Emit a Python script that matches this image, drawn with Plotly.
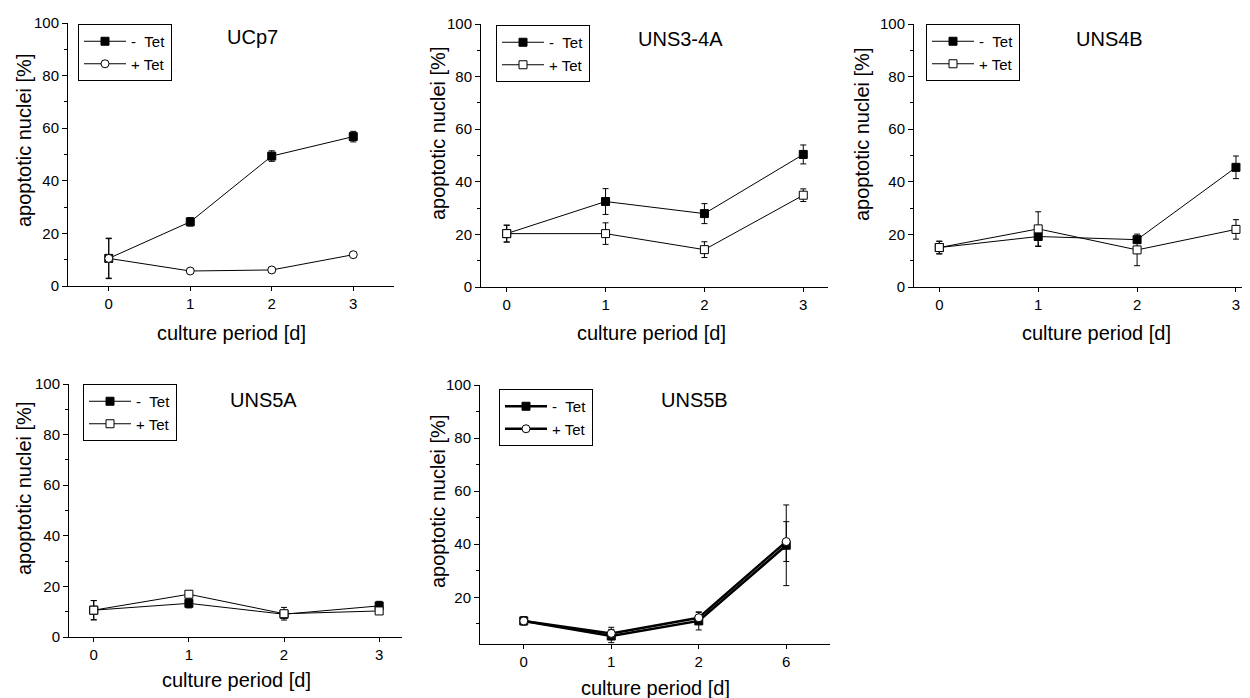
import plotly.graph_objects as go

# page body has an 8px margin: the figure is drawn 8px right/down
OFF = 8
W, H = 1250 - OFF, 698 - OFF

# ---------------- data ----------------
days_a = ["0", "1", "2", "3"]
days_b = ["0", "1", "2", "6"]

panel_titles = ["UCp7", "UNS3-4A", "UNS4B", "UNS5A", "UNS5B"]
series_names = ["-\u00a0\u00a0Tet", "+ Tet"]

ucp7_minus = [10.5, 24.4, 49.4, 56.8]
ucp7_minus_err = [7.5, 1.6, 2.0, 2.0]
ucp7_plus = [10.5, 5.7, 6.1, 11.9]
ucp7_plus_err = [7.7, 0.8, 1.0, 1.0]

uns34a_minus = [20.3, 32.5, 27.9, 50.4]
uns34a_minus_err = [3.2, 4.9, 3.8, 3.6]
uns34a_plus = [20.3, 20.3, 14.2, 34.9]
uns34a_plus_err = [3.2, 4.1, 3.0, 2.4]

uns4b_minus = [15.0, 19.2, 18.0, 45.5]
uns4b_minus_err = [2.4, 3.8, 1.0, 4.3]
uns4b_plus = [15.0, 22.1, 14.1, 21.9]
uns4b_plus_err = [2.4, 6.5, 6.0, 3.7]

uns5a_minus = [10.6, 13.3, 9.0, 12.3]
uns5a_minus_err = [3.8, 1.8, 1.5, 1.8]
uns5a_plus = [10.6, 16.9, 9.2, 10.3]
uns5a_plus_err = [3.8, 1.0, 2.5, 1.0]

uns5b_minus = [11.1, 5.4, 11.1, 39.6]
uns5b_minus_err = [1.5, 2.5, 3.4, 15.2]
uns5b_plus = [11.1, 6.4, 12.3, 41.0]
uns5b_plus_err = [1.5, 2.3, 2.0, 7.5]

# ---------------- layout geometry (screen pixels) ----------------
geom = [
    dict(l=68, r=394, t=23, b=286, xr=[-0.5, 3.5], yr=[0, 100]),
    dict(l=481, r=828, t=24, b=287, xr=[-0.26, 3.25], yr=[0, 100]),
    dict(l=914, r=1250, t=24, b=287, xr=[-0.256, 3.142], yr=[0, 100]),
    dict(l=69, r=402, t=384, b=637, xr=[-0.26, 3.24], yr=[0, 100]),
    dict(l=480, r=830, t=385, b=644, xr=[-0.5, 3.5], yr=[2.4, 100]),
]
title_pos = [(252, 37), (680, 39), (1109, 39), (263, 400), (694, 400)]
ytitle_pos = [(24, 141), (438, 134), (862, 134), (24, 489), (438, 502)]
xtitle_pos = [(231, 333), (651, 333), (1096, 333), (236, 680), (655, 688)]
legend_pos = [(78, 24), (496, 25), (926, 24), (83, 384), (499, 389)]

panels = [
    (days_a, ucp7_minus, ucp7_minus_err, ucp7_plus, ucp7_plus_err, "circle", 1),
    (days_a, uns34a_minus, uns34a_minus_err, uns34a_plus, uns34a_plus_err, "square", 1),
    (days_a, uns4b_minus, uns4b_minus_err, uns4b_plus, uns4b_plus_err, "square", 1),
    (days_a, uns5a_minus, uns5a_minus_err, uns5a_plus, uns5a_plus_err, "square", 1),
    (days_b, uns5b_minus, uns5b_minus_err, uns5b_plus, uns5b_plus_err, "circle", 2.5),
]

FONT = "Liberation Sans, Arial, sans-serif"


def fx(px):
    return min(1.0, max(0.0, (px - OFF) / W))


def fy(py):
    return min(1.0, max(0.0, 1 - (py - OFF) / H))


fig = go.Figure()
layout = dict(
    width=W, height=H,
    margin=dict(l=0, r=0, t=0, b=0, pad=0, autoexpand=False),
    paper_bgcolor="white", plot_bgcolor="white",
    font=dict(family=FONT, color="black", size=15),
    annotations=[],
)

for i, (days, ym, em, yp, ep, psym, lw) in enumerate(panels):
    n = "" if i == 0 else str(i + 1)
    xa, ya = "x" + n, "y" + n
    leg = "legend" + n
    g = geom[i]
    fig.add_trace(go.Scatter(
        x=days, y=ym, mode="lines+markers", name=series_names[0],
        xaxis=xa, yaxis=ya, legend=leg,
        line=dict(color="black", width=lw),
        marker=dict(symbol="square", size=8, color="black",
                    line=dict(color="black", width=1)),
        error_y=dict(type="data", array=em, visible=True, color="black",
                     thickness=1, width=3),
    ))
    fig.add_trace(go.Scatter(
        x=days, y=yp, mode="lines+markers", name=series_names[1],
        xaxis=xa, yaxis=ya, legend=leg,
        line=dict(color="black", width=lw),
        marker=dict(symbol=psym, size=8, color="white",
                    line=dict(color="black", width=1)),
        error_y=dict(type="data", array=ep, visible=True, color="black",
                     thickness=1, width=3),
    ))
    layout["xaxis" + n] = dict(
        domain=[fx(g["l"]), fx(g["r"])], anchor=ya, type="category",
        range=g["xr"], showline=True, linecolor="black", linewidth=1,
        ticks="outside", ticklen=4, tickcolor="black", showgrid=False,
        zeroline=False, automargin=False, tickfont=dict(size=15, family=FONT),
    )
    layout["yaxis" + n] = dict(
        domain=[fy(g["b"]), fy(g["t"])], anchor=xa, range=g["yr"],
        tick0=0, dtick=20, showline=True, linecolor="black", linewidth=1,
        ticks="outside", ticklen=5, tickcolor="black", showgrid=False,
        zeroline=False, automargin=False, tickfont=dict(size=15, family=FONT),
        minor=dict(dtick=10, tick0=0, ticks="outside", ticklen=3,
                   tickcolor="black", showgrid=False),
    )
    lx, ly = legend_pos[i]
    layout[leg] = dict(
        x=fx(lx), y=fy(ly), xanchor="left", yanchor="top",
        bordercolor="black", borderwidth=1, bgcolor="white",
        font=dict(size=15, family=FONT), tracegroupgap=0, itemwidth=42,
    )
    tx, ty = title_pos[i]
    layout["annotations"].append(dict(
        text=panel_titles[i], x=fx(tx), y=fy(ty), xref="paper", yref="paper",
        xanchor="center", yanchor="middle", showarrow=False,
        font=dict(size=20, family=FONT),
    ))
    yx, yy = ytitle_pos[i]
    layout["annotations"].append(dict(
        text="apoptotic nuclei [%]", x=fx(yx), y=fy(yy), xref="paper",
        yref="paper", xanchor="center", yanchor="middle", textangle=-90,
        showarrow=False, font=dict(size=20, family=FONT),
    ))
    xx, xy = xtitle_pos[i]
    layout["annotations"].append(dict(
        text="culture period [d]", x=fx(xx), y=fy(xy), xref="paper",
        yref="paper", xanchor="center", yanchor="middle",
        showarrow=False, font=dict(size=20, family=FONT),
    ))

fig.update_layout(**layout)
fig.write_html("out.html")
